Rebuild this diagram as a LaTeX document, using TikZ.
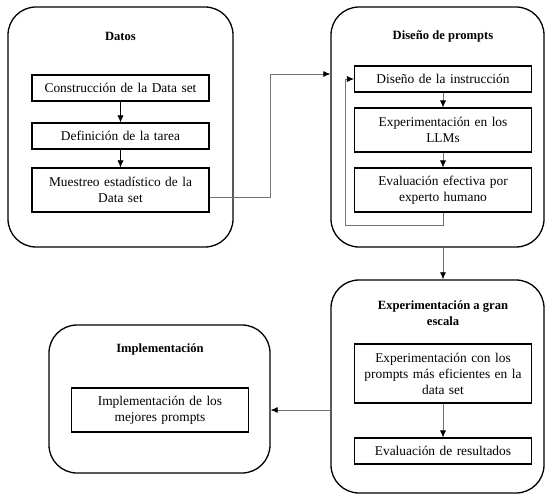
\documentclass[tikz,border=0pt]{standalone}
\usepackage{fontspec}
\setmainfont{Liberation Serif}
\usetikzlibrary{arrows.meta,positioning}

\begin{document}
\begin{tikzpicture}[x=1pt, y=-1pt, font=\fontsize{13.4}{16}\selectfont,
    phase/.style = {draw, line width=1.3pt, rounded corners=28pt},
    title/.style = {font=\fontsize{12.6}{16}\selectfont\bfseries, align=center},
    task/.style = {draw, line width=1.1pt, minimum width=177pt, text width=172pt, align=center, inner sep=1pt},
    arr/.style = {-{Latex[length=7pt,width=6pt]}, line width=0.6pt},
    conn/.style = {-{Latex[length=7pt,width=6pt,color=black]}, line width=0.7pt, black!55}]
    \useasboundingbox (0,0) rectangle (546,494);

    % fases
    \node[phase, minimum width=225pt, minimum height=240pt] (datos) at (120.5,127) {};
    \node[phase, minimum width=213pt, minimum height=240pt] (prompts) at (437.5,127) {};
    \node[phase, minimum width=213pt, minimum height=213pt] (escala) at (437.5,386.5) {};
    \node[phase, minimum width=221pt, minimum height=148pt] (impl) at (159.5,399) {};

    \node[title] (tdatos) at (120.5,36) {Datos};
    \node[title] (tprompts) at (443,36) {Diseño de prompts};
    \node[title] (tescala) at (443,313) {Experimentación a gran\\escala};
    \node[title] (timpl) at (160,349) {Implementación};

    % tareas
    \node[task, minimum height=26pt] (c1) at (120.5,88) {Construcción de la Data set};
    \node[task, minimum height=26pt] (c2) at (120.5,136) {Definición de la tarea};
    \node[task, minimum height=44pt] (c3) at (120.5,190) {Muestreo estadístico de la\\Data set};

    \node[task, minimum height=26pt] (a) at (443,79) {Diseño de la instrucción};
    \node[task, minimum height=44pt] (b) at (443,130) {Experimentación en los\\LLMs};
    \node[task, minimum height=44pt] (c) at (443,190) {Evaluación efectiva por\\experto humano};

    \node[task, minimum height=59pt] (d) at (443,373.5) {Experimentación con los\\prompts más eficientes en la\\data set};
    \node[task, minimum height=26pt] (e) at (443,451) {Evaluación de resultados};

    \node[task, minimum height=44pt] (f) at (160,410) {Implementación de los\\mejores prompts};

    \draw[arr] (c1) -- (c2);
    \draw[arr] (c2) -- (c3);
    \draw[conn] (a) -- (b);
    \draw[conn] (b) -- (c);
    \draw[conn] (d) -- (e);

    \coordinate (giro) at (345,225);
    \draw[conn] ([yshift=-7pt]c3.east) -- ++(61,0) |- ([yshift=5pt]prompts.west |- a);
    \draw[conn] (c.south) |- (giro) |- (a.west);
    \draw[conn] (prompts.south -| c.south) -- (escala.north -| c.south);
    \draw[conn] (escala.west |- f) -- (impl.east |- f);
\end{tikzpicture}
\end{document}
